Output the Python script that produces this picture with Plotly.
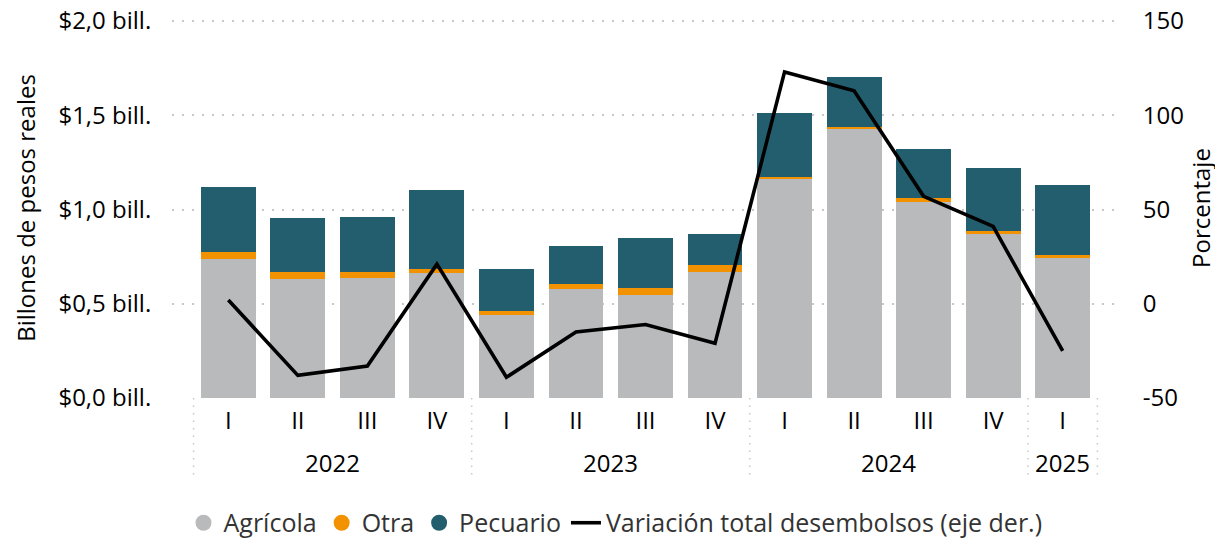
import plotly.graph_objects as go

years = ["2022", "2022", "2022", "2022", "2023", "2023", "2023", "2023",
         "2024", "2024", "2024", "2024", "2025"]
quarters = ["I", "II", "III", "IV", "I", "II", "III", "IV", "I", "II", "III", "IV", "I"]

agricola = [0.737, 0.631, 0.637, 0.663, 0.440, 0.578, 0.546, 0.668, 1.162, 1.432, 1.040, 0.870, 0.743]
otra = [0.038, 0.037, 0.031, 0.023, 0.022, 0.027, 0.038, 0.038, 0.010, 0.006, 0.021, 0.016, 0.016]
pecuario = [0.345, 0.287, 0.292, 0.417, 0.222, 0.201, 0.265, 0.164, 0.340, 0.265, 0.260, 0.334, 0.371]
variacion = [2, -38, -33, 21, -39, -15, -11, -21, 123, 113, 57, 41, -25]

y_ticks = [0, 0.5, 1.0, 1.5, 2.0]
y_ticktext = ["$0,0 bill.", "$0,5 bill.", "$1,0 bill.", "$1,5 bill.", "$2,0 bill."]
y2_ticks = [-50, 0, 50, 100, 150]
y2_ticktext = ["-50", "0", "50", "100", "150"]

C_AGR = "#B9BABC"
C_OTR = "#F39200"
C_PEC = "#235E6F"
C_LINE = "#000000"
FONT = "Open Sans"
FS = 24

cats = [f"{y} {q}" for y, q in zip(years, quarters)]

fig = go.Figure()
for name, vals, col in [("Agrícola", agricola, C_AGR), ("Otra", otra, C_OTR), ("Pecuario", pecuario, C_PEC)]:
    fig.add_trace(go.Bar(x=cats, y=vals, name=name, marker=dict(color=col, line=dict(width=0)),
                         showlegend=False, legendgroup=name))
    fig.add_trace(go.Scatter(x=[None], y=[None], mode="markers", name=name, legendgroup=name,
                             marker=dict(color=col, size=20, symbol="circle")))

fig.add_trace(go.Scatter(x=cats, y=variacion, mode="lines", name="Variación total desembolsos (eje der.)",
                         line=dict(color=C_LINE, width=3.6), yaxis="y2"))

# year group labels and dotted separators
groups = []
for i, y in enumerate(years):
    if not groups or groups[-1][0] != y:
        groups.append([y, i, i])
    else:
        groups[-1][2] = i

shapes = []
annotations = []
sep_style = dict(color="#C8C8C8", width=1.5, dash="1.5px,6px")
for y, s, e in groups:
    annotations.append(dict(x=(s + e) / 2, y=0, xref="x", yref="paper", yshift=-64,
                            text=y, showarrow=False, yanchor="middle",
                            font=dict(family=FONT, size=FS, color="#000")))
    shapes.append(dict(type="line", xref="x", yref="paper", x0=s - 0.5, x1=s - 0.5, y0=0, y1=-0.217,
                       line=sep_style))
shapes.append(dict(type="line", xref="x", yref="paper", x0=len(years) - 0.5, x1=len(years) - 0.5,
                   y0=0, y1=-0.217, line=sep_style))

fig.update_layout(
    width=1215, height=537,
    margin=dict(l=164, r=104, t=10, b=147, autoexpand=False),
    barmode="stack", bargap=0.21,
    plot_bgcolor="white", paper_bgcolor="white",
    font=dict(family=FONT, size=FS, color="#000"),
    xaxis=dict(type="category", range=[-0.81, 12.81], tickmode="array", tickvals=cats, ticktext=quarters,
               showgrid=False, zeroline=False, showline=False, ticks="outside", ticklen=1,
               tickcolor="rgba(0,0,0,0)", tickfont=dict(family=FONT, size=FS, color="#000"),
               automargin=False),
    yaxis=dict(range=[0, 2.016], tickvals=y_ticks, ticktext=y_ticktext, showgrid=True,
               gridcolor="#C8C8C8", gridwidth=2, griddash="2px,8px", zeroline=False, showline=False,
               ticks="outside", ticklen=15, tickcolor="rgba(0,0,0,0)", ticklabeloverflow="allow",
               tickfont=dict(family=FONT, size=FS, color="#000"), automargin=False,
               title=dict(text="Billones de pesos reales", font=dict(family=FONT, size=FS, color="#000"),
                          standoff=16)),
    yaxis2=dict(range=[-50, 151.6], tickvals=y2_ticks, ticktext=y2_ticktext, overlaying="y", side="right",
                showgrid=False, zeroline=False, showline=False, ticks="outside", ticklen=18,
                tickcolor="rgba(0,0,0,0)", tickfont=dict(family=FONT, size=FS, color="#000"),
                automargin=False, ticklabeloverflow="allow",
                title=dict(text="Porcentaje", font=dict(family=FONT, size=FS, color="#000"), standoff=10)),
    legend=dict(orientation="h", x=0.5, xanchor="center", xref="container", y=0.041, yanchor="middle",
                yref="container", font=dict(family=FONT, size=25, color="#333333"),
                bgcolor="rgba(0,0,0,0)"),
    shapes=shapes, annotations=annotations,
)

fig.write_html("out.html")
